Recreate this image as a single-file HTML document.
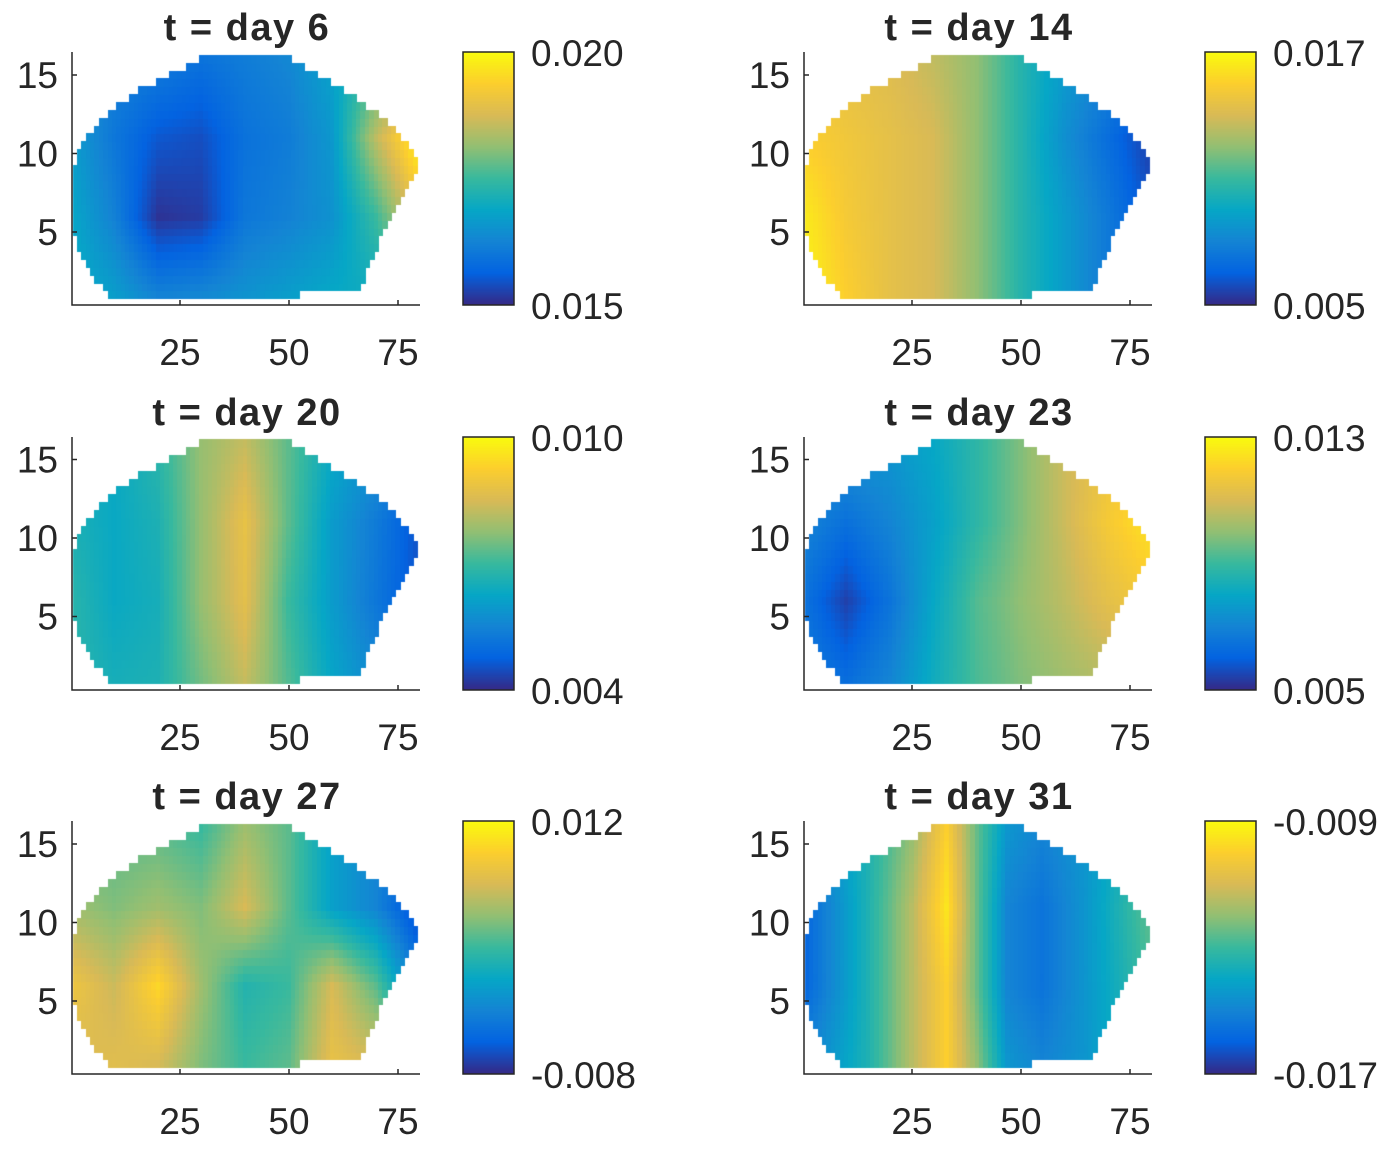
<!DOCTYPE html>
<html><head><meta charset="utf-8">
<style>
html,body{margin:0;padding:0;background:#fff;}
#wrap{position:relative;width:1393px;height:1149px;overflow:hidden;}
canvas,svg{position:absolute;left:0;top:0;}
text{font-family:"Liberation Sans",Arial,sans-serif;fill:#262626;}
</style></head>
<body>
<div id="wrap">
<canvas id="cv" width="1393" height="1149"></canvas>
<svg id="sv" width="1393" height="1149"></svg>
</div>
<script>
// ---- data (values in units of 1e-3) ----
const titles = ["t = day 6","t = day 14","t = day 20","t = day 23","t = day 27","t = day 31"];
const climLo = [0.015,0.005,0.004,0.005,-0.008,-0.017];
const climHi = [0.020,0.017,0.010,0.013,0.012,-0.009];
const cbLoLabels = ["0.015","0.005","0.004","0.005","-0.008","-0.017"];
const cbHiLabels = ["0.020","0.017","0.010","0.013","0.012","-0.009"];
const xTicks = [25,50,75];
const yTicks = [5,10,15];
const gridY = [1,6,11,16];
const gridX9 = [0,10,20,30,40,50,60,70,80];
const gridX6 = [0,6,15,25,33,40,47,55,65,80];
const vals1 = [[17.0,16.7,16.2,16.3,16.5,16.7,16.9,17.0,17.2],[16.9,16.2,15.1,15.2,16.0,16.2,16.5,17.5,19.0],[16.7,16.0,15.5,15.4,15.9,16.1,16.6,18.5,20.0],[16.5,16.2,16.1,15.9,16.1,16.3,16.8,17.5,18.0]];
const vals2 = [[16.8,15.5,14.5,14,12.5,10.5,9,7.5,7],[16.5,15.2,14.5,14,12.5,10.5,9,7.5,6],[15.5,15,14.5,14,12.5,10.5,8.5,7,5.5],[15,14.5,14.2,13.5,12.5,10.5,9,8,7]];
const vals3 = [[6.8,6.5,6.6,7.5,8.3,7.2,6.2,5.6,5.2],[6.8,6.3,6.5,7.8,8.7,7.0,6.0,5.2,4.5],[6.6,6.3,6.6,7.8,8.8,7.3,6.0,5.3,4.5],[6.5,6.3,6.8,7.8,8.3,7.3,6.3,5.8,5.5]];
const vals4 = [[6.8,6.3,7.0,8.2,9.2,9.8,10.2,10.5,10.5],[6.5,5.4,6.5,8.0,9.3,10.0,10.6,11.3,11.8],[7.0,6.4,7.0,7.8,8.8,9.8,10.8,11.8,12.5],[7.5,7.5,7.5,8.0,8.8,9.8,10.8,11.5,12.0]];
const vals5 = [[7,7.5,7,4,2,3,8,7,2],[8.5,6.5,10,5,1,2,7,3,-4],[5,4,5,4,7,3,-1,-3,-7],[3,3,3,2,5,3,-1,-3,-4]];
const vals6 = [[-15,-14.5,-13.5,-11.5,-10,-12,-14.5,-15,-14.5,-13],[-16,-15,-13.5,-11.5,-10,-12.5,-15,-15.5,-14.5,-12.8],[-16,-15,-13.5,-11.5,-9.5,-12.5,-15,-15.5,-14.5,-12.5],[-15,-14.5,-13.5,-12,-10,-12.5,-14.5,-15,-14.5,-13]];

// ---- layout ----
const panelVals=[vals1,vals2,vals3,vals4,vals5,vals6];
const panelXs=[gridX9,gridX9,gridX9,gridX9,gridX9,gridX6];
const colX0=[71,803], rowY0=[310.5,695,1079.5];
const UX=4.36, UY=15.7;
const leftB=[[1,9],[2,6],[3,4],[4,2],[5,1],[9,1],[10,2],[11,4],[12,7],[13,11],[14,16],[15,23],[16,30]];
const rightB=[[1,52],[1.5,66],[3,68],[5,71],[7,75],[8.5,78],[9.5,79],[10.5,77],[12,72],[13,67],[14,62],[15,56],[16,50]];
function lerpTab(t,y){if(y<=t[0][0])return t[0][1];for(let i=1;i<t.length;i++){if(y<=t[i][0]){const a=t[i-1],b=t[i];return a[1]+(b[1]-a[1])*(y-a[0])/(b[0]-a[0]);}}return t[t.length-1][1];}
const cmapStops=[[0,53,42,135],[.125,3,99,225],[.25,20,132,212],[.375,6,167,198],[.5,56,185,158],[.625,146,191,115],[.75,217,186,86],[.875,252,206,46],[1,249,251,14]];
function cmap(t){t=Math.max(0,Math.min(1,t));for(let i=1;i<cmapStops.length;i++){if(t<=cmapStops[i][0]){const a=cmapStops[i-1],b=cmapStops[i];const f=(t-a[0])/(b[0]-a[0]);return `rgb(${Math.round(a[1]+(b[1]-a[1])*f)},${Math.round(a[2]+(b[2]-a[2])*f)},${Math.round(a[3]+(b[3]-a[3])*f)})`;}}return 'rgb(249,251,14)';}
function seg(arr,v){for(let i=1;i<arr.length;i++){if(v<=arr[i])return [i-1,(v-arr[i-1])/(arr[i]-arr[i-1])];}return [arr.length-2,1];}
function sample(vals,xs,x,y){const [i,fx]=seg(xs,x);const [j,fy]=seg(gridY,y);
 const a=vals[j][i]*(1-fx)+vals[j][i+1]*fx, b=vals[j+1][i]*(1-fx)+vals[j+1][i+1]*fx; return (a*(1-fy)+b*fy)/1000;}

const cv=document.getElementById('cv'),ctx=cv.getContext('2d');
const sv=document.getElementById('sv'),NS='http://www.w3.org/2000/svg';
function mk(tag,attrs,parent){const e=document.createElementNS(NS,tag);for(const k in attrs)e.setAttribute(k,attrs[k]);(parent||sv).appendChild(e);return e;}

for(let p=0;p<6;p++){
 const c=p%2,r=Math.floor(p/2),x0=colX0[c],y0=rowY0[r];
 const sx=v=>x0+v*UX, sy=v=>y0-v*UY;
 const lo=climLo[p],hi=climHi[p];
 for(let y=1;y<=16;y+=0.5){
  const L=Math.round(lerpTab(leftB,y)),R=Math.round(lerpTab(rightB,y));
  for(let x=L;x<=R;x++){
   const v=sample(panelVals[p],panelXs[p],x,y);
   ctx.fillStyle=cmap((v-lo)/(hi-lo));
   const px=sx(x-0.5),py=sy(y+0.25);
   ctx.fillRect(Math.floor(px),Math.floor(py),Math.ceil(sx(x+0.5))-Math.floor(px),Math.ceil(sy(y-0.25))-Math.floor(py));
  }
 }
 const g=mk('g',{});
 
 
 const top=Math.round(y0-258.5), bot=Math.round(y0-5.5), left=x0+1, right=x0+349;
 const ax=mk('path',{d:`M${left},${top}V${bot}H${right}`,stroke:'#262626','stroke-width':1.5,fill:'none'},g);
 
 xTicks.forEach(t=>{mk('line',{x1:sx(t),x2:sx(t),y1:bot,y2:bot-5,stroke:'#262626','stroke-width':1.5},g);
  const tx=mk('text',{x:sx(t),y:bot+60,'font-size':37,'text-anchor':'middle'},g);tx.textContent=t;
  });
 yTicks.forEach(t=>{mk('line',{x1:left,x2:left+5,y1:sy(t),y2:sy(t),stroke:'#262626','stroke-width':1.5},g);
  const tx=mk('text',{x:left-14,y:sy(t)+13,'font-size':37,'text-anchor':'end'},g);tx.textContent=t;
  });
 const ti=mk('text',{x:x0+176,y:top-12,'font-size':38,'font-weight':'bold','text-anchor':'middle','letter-spacing':1.5,fill:'#000'},g);ti.textContent=titles[p];
 
 const cbx=c===0?463:1205, cbw=51;
 for(let k=0;k<253;k++){ctx.fillStyle=cmap(1-k/252);ctx.fillRect(cbx,top+k,cbw,1);}
 const cb=mk('rect',{x:cbx,y:top,width:cbw,height:253,fill:'none',stroke:'#262626','stroke-width':1.5},g);
 
 const t1=mk('text',{x:cbx+68,y:top+14,'font-size':37},g);t1.textContent=cbHiLabels[p];
 
 const t2=mk('text',{x:cbx+68,y:top+267,'font-size':37},g);t2.textContent=cbLoLabels[p];
 
}
</script>
</body></html>
